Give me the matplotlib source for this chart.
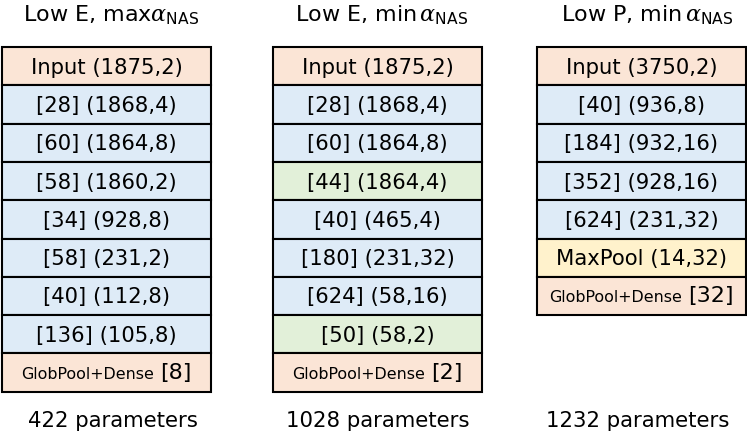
import matplotlib
matplotlib.use("Agg")
import matplotlib.pyplot as plt
from matplotlib.patches import Rectangle
from matplotlib.offsetbox import TextArea, HPacker, AnnotationBbox

plt.rcParams['font.family'] = ['DejaVu Sans']
plt.rcParams['mathtext.fontset'] = 'custom'
plt.rcParams['mathtext.rm'] = 'DejaVu Sans'
plt.rcParams['mathtext.it'] = 'DejaVu Serif:italic'

# data: one list per architecture
titles = [r"Low E, max$\alpha_{\mathrm{NAS}}$",
          r"Low E, min$\,\alpha_{\mathrm{NAS}}$",
          r"Low P, min$\,\alpha_{\mathrm{NAS}}$"]
params = ["422 parameters", "1028 parameters", "1232 parameters"]

layers_a = ["Input (1875,2)", "[28] (1868,4)", "[60] (1864,8)", "[58] (1860,2)",
            "[34] (928,8)", "[58] (231,2)", "[40] (112,8)", "[136] (105,8)"]
kinds_a = ["in", "conv", "conv", "conv", "conv", "conv", "conv", "conv"]
dense_a = "[8]"

layers_b = ["Input (1875,2)", "[28] (1868,4)", "[60] (1864,8)", "[44] (1864,4)",
            "[40] (465,4)", "[180] (231,32)", "[624] (58,16)", "[50] (58,2)"]
kinds_b = ["in", "conv", "conv", "sep", "conv", "conv", "conv", "sep"]
dense_b = "[2]"

layers_c = ["Input (3750,2)", "[40] (936,8)", "[184] (932,16)", "[352] (928,16)",
            "[624] (231,32)", "MaxPool (14,32)"]
kinds_c = ["in", "conv", "conv", "conv", "conv", "pool"]
dense_c = "[32]"

colors = {"in": "#FBE5D6", "conv": "#DEEBF7", "sep": "#E2F0D9",
          "pool": "#FFF2CC", "dense": "#FBE5D6"}

W, H = 747, 433
fig = plt.figure(figsize=(W / 100, H / 100), dpi=100)
ax = fig.add_axes([0, 0, 1, 1])
ax.set_xlim(0, W)
ax.set_ylim(H, 0)
ax.axis('off')

# layout in pixels
col_x = [2, 273, 537]
col_w = 209
top = 47
row_h = 38.3
title_dx = [5, 4, 6]
param_dx = [6, 0, -4]

columns = [(layers_a, kinds_a, dense_a), (layers_b, kinds_b, dense_b),
           (layers_c, kinds_c, dense_c)]

for i, (layers, kinds, dense) in enumerate(columns):
    x0 = col_x[i]
    xc = x0 + col_w / 2
    ax.text(xc + title_dx[i], 21, titles[i], ha='center', va='baseline', fontsize=16)
    for j, (lab, k) in enumerate(zip(layers, kinds)):
        y = top + j * row_h
        ax.add_patch(Rectangle((x0, y), col_w, row_h, facecolor=colors[k],
                               edgecolor='black', linewidth=1.5))
        ax.text(xc, y + row_h / 2 + 7.5, lab, ha='center', va='baseline', fontsize=15.2)
    # last row: global pooling + dense
    y = top + len(layers) * row_h
    ax.add_patch(Rectangle((x0, y), col_w, row_h, facecolor=colors["dense"],
                           edgecolor='black', linewidth=1.5))
    pack = HPacker(children=[TextArea("GlobPool+Dense", textprops=dict(fontsize=11.4)),
                             TextArea(dense, textprops=dict(fontsize=16))],
                   align="baseline", pad=0, sep=4)
    ab = AnnotationBbox(pack, (xc, y + row_h / 2), frameon=False,
                        box_alignment=(0.5, 0.5), pad=0)
    ax.add_artist(ab)
    ax.text(xc + param_dx[i], 427, params[i], ha='center', va='baseline', fontsize=15.3)

fig.savefig("out.png", dpi=100)
